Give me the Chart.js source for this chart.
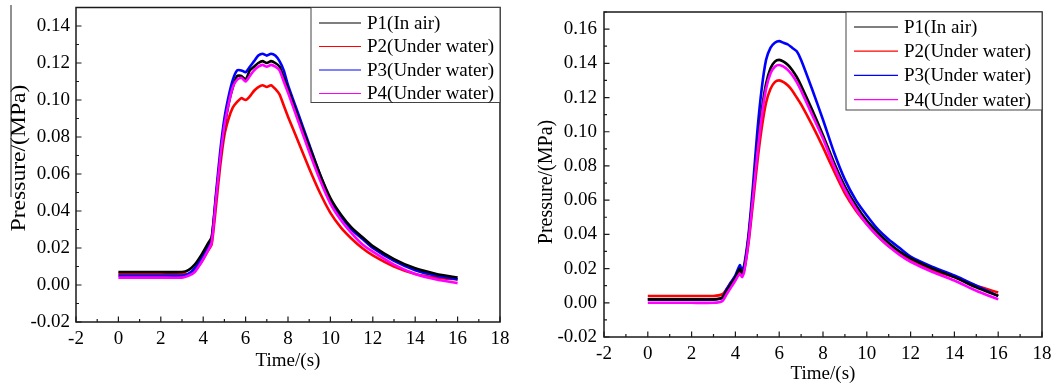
<!DOCTYPE html>
<html>
<head>
<meta charset="utf-8">
<script src="https://cdn.jsdelivr.net/npm/chart.js@4.4.1/dist/chart.umd.min.js"></script>
<style>
  html, body { margin: 0; padding: 0; background: #fff; }
  #wrap { position: relative; width: 1054px; height: 389px; }
  canvas { position: absolute; top: 0; }
</style>
</head>
<body>
<div id="wrap">
  <canvas id="left" width="520" height="389" style="left:0"></canvas>
  <canvas id="right" width="534" height="389" style="left:520px"></canvas>
</div>
<script>
// series labels
const seriesNames = ["P1(In air)", "P2(Under water)", "P3(Under water)", "P4(Under water)"];
const seriesColors = ["#000000", "#ff0000", "#0000ff", "#ff00ff"];

// left test: time (s) and pressure (MPa)
const leftTime = [0, 1, 2, 3, 3.3, 3.6, 3.9, 4.2, 4.4, 4.6, 4.8, 5.0, 5.2, 5.4, 5.6, 5.8, 6.0, 6.2, 6.4, 6.6,
  6.8, 7.0, 7.2, 7.4, 7.6, 7.8, 8.0, 8.5, 9.0, 9.5, 10, 10.5, 11, 11.5, 12, 13, 14, 15, 16];
const leftP1 = [0.007, 0.007, 0.007, 0.007, 0.008, 0.011, 0.016, 0.022, 0.026, 0.047, 0.068, 0.085, 0.098, 0.107,
  0.113, 0.113, 0.111, 0.116, 0.118, 0.12, 0.121, 0.12, 0.121, 0.12, 0.118, 0.112, 0.106, 0.09, 0.075, 0.06,
  0.047, 0.038, 0.031, 0.026, 0.021, 0.014, 0.009, 0.006, 0.004];
const leftP2 = [0.006, 0.006, 0.006, 0.006, 0.006, 0.008, 0.012, 0.018, 0.022, 0.042, 0.064, 0.081, 0.09, 0.096,
  0.099, 0.101, 0.100, 0.102, 0.105, 0.107, 0.108, 0.107, 0.108, 0.106, 0.103, 0.097, 0.091, 0.077, 0.063, 0.05,
  0.039, 0.031, 0.025, 0.02, 0.016, 0.01, 0.006, 0.004, 0.003];
const leftP3 = [0.005, 0.005, 0.005, 0.005, 0.006, 0.009, 0.014, 0.02, 0.025, 0.049, 0.072, 0.09, 0.102, 0.111,
  0.116, 0.116, 0.115, 0.118, 0.121, 0.124, 0.125, 0.124, 0.125, 0.124, 0.121, 0.116, 0.108, 0.092, 0.076, 0.06,
  0.046, 0.037, 0.030, 0.025, 0.020, 0.013, 0.008, 0.005, 0.003];
const leftP4 = [0.004, 0.004, 0.004, 0.004, 0.005, 0.007, 0.012, 0.018, 0.023, 0.046, 0.068, 0.086, 0.098, 0.107,
  0.111, 0.112, 0.110, 0.113, 0.116, 0.118, 0.119, 0.118, 0.119, 0.118, 0.116, 0.11, 0.104, 0.088, 0.072, 0.057,
  0.044, 0.035, 0.028, 0.022, 0.018, 0.011, 0.006, 0.003, 0.001];

// right test
const rightTime = [0, 1, 2, 3, 3.4, 3.6, 3.8, 4.0, 4.2, 4.3, 4.4, 4.6, 4.8, 5.0, 5.2, 5.4, 5.6, 5.8, 6.0, 6.2,
  6.4, 6.6, 6.8, 7.0, 7.5, 8.0, 8.5, 9.0, 9.5, 10, 10.5, 11, 11.5, 12, 13, 14, 15, 16];
const rightP1 = [0.002, 0.002, 0.002, 0.002, 0.003, 0.007, 0.011, 0.015, 0.02, 0.017, 0.02, 0.038, 0.063, 0.09,
  0.112, 0.128, 0.137, 0.141, 0.142, 0.141, 0.139, 0.136, 0.132, 0.127, 0.113, 0.098, 0.082, 0.068, 0.057, 0.048,
  0.041, 0.035, 0.030, 0.026, 0.020, 0.015, 0.009, 0.004];
const rightP2 = [0.004, 0.004, 0.004, 0.004, 0.005, 0.008, 0.012, 0.015, 0.018, 0.016, 0.019, 0.035, 0.058, 0.082,
  0.102, 0.117, 0.125, 0.129, 0.130, 0.129, 0.127, 0.124, 0.12, 0.116, 0.104, 0.091, 0.077, 0.064, 0.054, 0.046,
  0.039, 0.033, 0.029, 0.025, 0.019, 0.015, 0.010, 0.006];
const rightP3 = [0.002, 0.002, 0.002, 0.002, 0.003, 0.008, 0.012, 0.016, 0.022, 0.019, 0.022, 0.04, 0.068, 0.1,
  0.125, 0.142, 0.149, 0.152, 0.153, 0.152, 0.151, 0.149, 0.147, 0.142, 0.125, 0.107, 0.088, 0.072, 0.06, 0.051,
  0.043, 0.037, 0.032, 0.027, 0.021, 0.016, 0.01, 0.004];
const rightP4 = [0.000, 0.000, 0.000, 0.000, 0.001, 0.005, 0.009, 0.013, 0.017, 0.015, 0.018, 0.036, 0.061, 0.087,
  0.109, 0.125, 0.134, 0.138, 0.139, 0.138, 0.136, 0.133, 0.129, 0.124, 0.110, 0.096, 0.080, 0.066, 0.055, 0.046,
  0.039, 0.033, 0.028, 0.024, 0.018, 0.013, 0.007, 0.002];

const xTicks = [-2, 0, 2, 4, 6, 8, 10, 12, 14, 16, 18];
const xTitle = "Time/(s)";
const yTitle = "Pressure/(MPa)";

Chart.defaults.font.family = "'Liberation Serif', 'Times New Roman', serif";
Chart.defaults.color = "#000";

// frame box, inward ticks, legend box and rotated y title
const frame = {
  id: "frame",
  afterDraw(chart, args, opts) {
    const ctx = chart.ctx;
    const a = chart.chartArea;
    const xs = chart.scales.x, ys = chart.scales.y;
    ctx.save();
    ctx.strokeStyle = "#1a1a1a";
    ctx.lineWidth = 1.5;
    ctx.strokeRect(a.left, a.top, a.right - a.left, a.bottom - a.top);

    ctx.lineWidth = 1.2;
    ctx.beginPath();
    for (let v = Math.round(xs.min); v <= xs.max; v++) {
      const px = xs.getPixelForValue(v);
      const len = v % 2 === 0 ? 5.5 : 3;
      ctx.moveTo(px, a.bottom);
      ctx.lineTo(px, a.bottom - len);
    }
    for (let k = Math.round(ys.min * 100); k <= Math.round(ys.max * 100); k++) {
      const py = ys.getPixelForValue(k / 100);
      const len = k % 2 === 0 ? 5.5 : 3;
      ctx.moveTo(a.left, py);
      ctx.lineTo(a.left + len, py);
    }
    ctx.stroke();

    // legend
    const lg = opts.legend;
    const bx = a.right - lg.width, by = a.top;
    ctx.fillStyle = "#fff";
    ctx.fillRect(bx, by, lg.width, lg.height);
    ctx.strokeStyle = "#444";
    ctx.lineWidth = 1;
    ctx.strokeRect(bx, by, lg.width, lg.height);
    ctx.font = "19px 'Liberation Serif', 'Times New Roman', serif";
    ctx.textBaseline = "middle";
    ctx.textAlign = "left";
    chart.data.datasets.forEach((ds, i) => {
      const ry = by + lg.first + i * lg.row;
      ctx.strokeStyle = ds.borderColor;
      ctx.lineWidth = 1.2;
      ctx.beginPath();
      ctx.moveTo(bx + 8, ry);
      ctx.lineTo(bx + 8 + lg.sample, ry);
      ctx.stroke();
      ctx.fillStyle = "#000";
      ctx.fillText(ds.label, bx + 14 + lg.sample, ry + 1);
    });

    // y title
    const t = opts.title;
    ctx.translate(t.x, t.y);
    ctx.rotate(-Math.PI / 2);
    ctx.scale(t.stretch, 1);
    ctx.font = "20px 'Liberation Serif', 'Times New Roman', serif";
    ctx.textAlign = "center";
    ctx.fillStyle = "#000";
    ctx.fillText(yTitle, 0, 0);
    ctx.restore();

    if (opts.rule) {
      ctx.save();
      ctx.strokeStyle = "#222";
      ctx.lineWidth = 1;
      ctx.beginPath();
      ctx.moveTo(11, 5);
      ctx.lineTo(11, 197);
      ctx.stroke();
      ctx.restore();
    }
  }
};

function makeChart(id, time, series, cfg) {
  const datasets = series.map((vals, i) => ({
    label: seriesNames[i],
    data: vals.map((v, j) => ({ x: time[j], y: v })),
    borderColor: seriesColors[i],
    backgroundColor: seriesColors[i],
    borderWidth: 2.6,
    pointRadius: 0,
    tension: 0.2,
    fill: false,
  }));
  datasets.forEach((d, i) => { d.order = [1, 3, 2, 0][i]; });

  return new Chart(document.getElementById(id), {
    type: "line",
    data: { datasets: datasets },
    options: {
      responsive: false,
      animation: false,
      devicePixelRatio: 1,
      layout: { padding: cfg.padding },
      plugins: {
        legend: { display: false },
        tooltip: { enabled: false },
        frame: cfg.frame,
      },
      scales: {
        x: {
          type: "linear",
          min: -2,
          max: 18,
          afterBuildTicks: (s) => { s.ticks = xTicks.map((v) => ({ value: v })); },
          afterFit: (s) => { s.height = cfg.xHeight; s.paddingLeft = 0; s.paddingRight = 0; },
          grid: { display: false, drawTicks: false },
          border: { display: false },
          ticks: { font: { size: 19 }, padding: cfg.xPad, color: "#000" },
          title: { display: true, text: xTitle, font: { size: 19 }, color: "#000", padding: { top: 0, bottom: cfg.xTitlePad } },
        },
        y: {
          type: "linear",
          min: -0.02,
          max: cfg.yMax,
          afterFit: (s) => { s.width = cfg.yWidth; s.paddingTop = 0; s.paddingBottom = 0; },
          grid: { display: false, drawTicks: false },
          border: { display: false },
          ticks: {
            stepSize: 0.02,
            includeBounds: false,
            font: { size: 19 },
            padding: cfg.yPad,
            color: "#000",
            callback: (v) => v.toFixed(2),
          },
        },
      },
    },
    plugins: [frame],
  });
}

makeChart("left", leftTime, [leftP1, leftP2, leftP3, leftP4], {
  padding: { top: 7.5, right: 20, left: 0, bottom: 0 },
  xHeight: 67, yWidth: 76, yMax: 0.15, xPad: 6, yPad: 6, xTitlePad: 17,
  frame: {
    legend: { width: 189, height: 95, first: 15.5, row: 23.5, sample: 42 },
    title: { x: 20, y: 158, stretch: 1.18 },
    rule: true,
  },
});

makeChart("right", rightTime, [rightP1, rightP2, rightP3, rightP4], {
  padding: { top: 12, right: 12, left: 0, bottom: 0 },
  xHeight: 52, yWidth: 84, yMax: 0.17, xPad: 6, yPad: 7, xTitlePad: 4,
  frame: {
    legend: { width: 196, height: 98, first: 15, row: 24.2, sample: 44 },
    title: { x: 26.5, y: 182, stretch: 1 },
    rule: false,
  },
});
</script>
</body>
</html>
